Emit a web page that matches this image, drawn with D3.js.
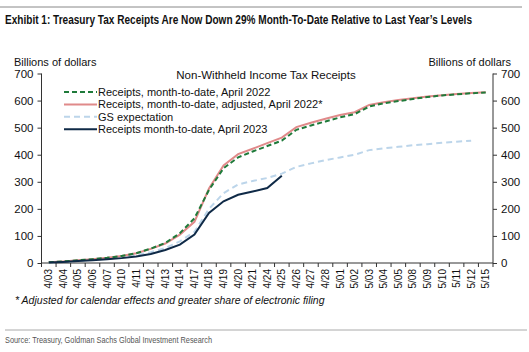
<!DOCTYPE html>
<html>
<head>
<meta charset="utf-8">
<script src="https://cdn.jsdelivr.net/npm/d3@7"></script>
<style>
  body { margin: 0; background: #fff; }
  text { font-family: "Liberation Sans", Arial, sans-serif; fill: #111; }
</style>
</head>
<body>
<div id="chart"></div>
<script>
// categories (trading days)
let days = ["4/03", "4/04", "4/05", "4/06", "4/07", "4/10", "4/11", "4/12", "4/13", "4/14",
    "4/17", "4/18", "4/19", "4/20", "4/21", "4/24", "4/25", "4/26", "4/27", "4/28",
    "5/01", "5/02", "5/03", "5/04", "5/05", "5/08", "5/09", "5/10", "5/11", "5/12", "5/15"];

// billions of dollars, month-to-date
let receipts2022 = [3, 6, 10, 14, 19, 26, 36, 53, 74, 110, 165, 270, 350, 390, 412, 432, 452, 492, 508, 523,
    538, 550, 578, 590, 598, 606, 613, 619, 623, 627, 630];
let adjusted2022 = [3, 6, 10, 14, 19, 26, 36, 52, 72, 105, 152, 275, 360, 402, 422, 443, 463, 502, 518, 533,
    547, 557, 584, 594, 602, 609, 615, 620, 624, 628, 631];
let gsExpectation = [2, 4, 8, 12, 16, 22, 30, 40, 55, 80, 115, 200, 258, 290, 303, 314, 330, 355, 368, 380,
    390, 400, 417, 424, 429, 435, 439, 444, 448, 452];
let receipts2023 = [2, 4, 7, 10, 14, 18, 24, 33, 48, 68, 105, 185, 228, 252, 264, 277, 322];

let yTicks = [0, 100, 200, 300, 400, 500, 600, 700];

let series = [
    {name: "Receipts, month-to-date, April 2022", values: receipts2022, color: "#1f7a3a", dash: "5,3", w: 2},
    {name: "Receipts, month-to-date, adjusted, April 2022*", values: adjusted2022, color: "#e08a8a", dash: null, w: 2},
    {name: "GS expectation", values: gsExpectation, color: "#bcd5ea", dash: "6,4", w: 2},
    {name: "Receipts month-to-date, April 2023", values: receipts2023, color: "#0f2a47", dash: null, w: 2}
];

let W = 529, H = 352;
let plot = {left: 41.5, right: 493, top: 73.5, bottom: 263};

let svg = d3.select("#chart")
    .append("svg")
    .attr("width", W)
    .attr("height", H);

// header rule + title
svg.append("line")
    .attr("x1", 0).attr("x2", 522)
    .attr("y1", 7).attr("y2", 7)
    .attr("stroke", "#888").attr("stroke-width", 1);

svg.append("text")
    .attr("x", 5).attr("y", 24)
    .attr("font-size", 12.5)
    .attr("font-weight", "bold")
    .attr("textLength", 467)
    .attr("lengthAdjust", "spacingAndGlyphs")
    .text("Exhibit 1: Treasury Tax Receipts Are Now Down 29% Month-To-Date Relative to Last Year\u2019s Levels");

// scales
let x = d3.scaleBand()
    .domain(days)
    .range([plot.left, plot.right]);

let y = d3.scaleLinear()
    .domain([0, 700])
    .range([plot.bottom, plot.top]);

// axes
let yLeft = d3.axisLeft(y).tickValues(yTicks).tickSize(4).tickPadding(4);
let gL = svg.append("g")
    .attr("transform", "translate(" + plot.left + ",0)")
    .call(yLeft);

let yRight = d3.axisRight(y).tickValues(yTicks).tickSize(4).tickPadding(4);
let gR = svg.append("g")
    .attr("transform", "translate(" + plot.right + ",0)")
    .call(yRight);

[gL, gR].forEach(function (g) {
    g.select(".domain").attr("stroke", "#333").attr("d", "M" + 0 + "," + plot.top + "V" + plot.bottom);
    g.selectAll(".tick line").attr("stroke", "#333");
    g.selectAll(".tick text")
        .attr("font-family", "Liberation Sans, Arial, sans-serif")
        .attr("font-size", 11.5)
        .attr("fill", "#111");
});

// x axis: ticks on band edges, rotated labels
let gX = svg.append("g")
    .attr("transform", "translate(0," + plot.bottom + ")");

gX.append("line")
    .attr("x1", plot.left).attr("x2", plot.right)
    .attr("stroke", "#333");

let edges = days.map(function (d) { return x(d); }).concat([plot.right]);
gX.selectAll("line.tk")
    .data(edges)
    .enter()
    .append("line")
    .attr("class", "tk")
    .attr("x1", function (d) { return d; })
    .attr("x2", function (d) { return d; })
    .attr("y1", 0).attr("y2", 4)
    .attr("stroke", "#333");

gX.selectAll("text")
    .data(days)
    .enter()
    .append("text")
    .attr("transform", function (d) {
        return "translate(" + (x(d) + x.bandwidth() / 2 + 3.5) + ",6) rotate(-90)";
    })
    .attr("text-anchor", "end")
    .attr("font-size", 10)
    .text(function (d) { return d; });

// axis titles
svg.append("text")
    .attr("x", 14).attr("y", 66)
    .attr("font-size", 11)
    .text("Billions of dollars");

svg.append("text")
    .attr("x", 511).attr("y", 66)
    .attr("text-anchor", "end")
    .attr("font-size", 11)
    .text("Billions of dollars");

svg.append("text")
    .attr("x", 266).attr("y", 79)
    .attr("text-anchor", "middle")
    .attr("font-size", 11.5)
    .text("Non-Withheld Income Tax Receipts");

// lines
let line = d3.line()
    .x(function (d, i) { return x(days[i]) + x.bandwidth() / 2; })
    .y(function (d) { return y(d); });

let drawOrder = [series[2], series[1], series[0], series[3]];
svg.selectAll("path.series")
    .data(drawOrder)
    .enter()
    .append("path")
    .attr("class", "series")
    .attr("fill", "none")
    .attr("stroke", function (d) { return d.color; })
    .attr("stroke-width", function (d) { return d.w; })
    .attr("stroke-dasharray", function (d) { return d.dash; })
    .attr("d", function (d) { return line(d.values); });

// legend
let legend = svg.append("g");
series.forEach(function (s, i) {
    let ly = 92 + i * 12.4;
    legend.append("line")
        .attr("x1", 64).attr("x2", 97)
        .attr("y1", ly).attr("y2", ly)
        .attr("stroke", s.color)
        .attr("stroke-width", s.w)
        .attr("stroke-dasharray", s.dash);
    legend.append("text")
        .attr("x", 98).attr("y", ly + 4)
        .attr("font-size", 11)
        .text(s.name);
});

// footnote
svg.append("text")
    .attr("x", 15).attr("y", 304)
    .attr("font-size", 10.5)
    .attr("font-style", "italic")
    .text("* Adjusted for calendar effects and greater share of electronic filing");

svg.append("line")
    .attr("x1", 5).attr("x2", 527)
    .attr("y1", 330).attr("y2", 330)
    .attr("stroke", "#aaa").attr("stroke-width", 1);

svg.append("text")
    .attr("x", 5).attr("y", 343)
    .attr("font-size", 9)
    .attr("textLength", 207)
    .attr("lengthAdjust", "spacingAndGlyphs")
    .style("fill", "#555")
    .text("Source: Treasury, Goldman Sachs Global Investment Research");
</script>
</body>
</html>
